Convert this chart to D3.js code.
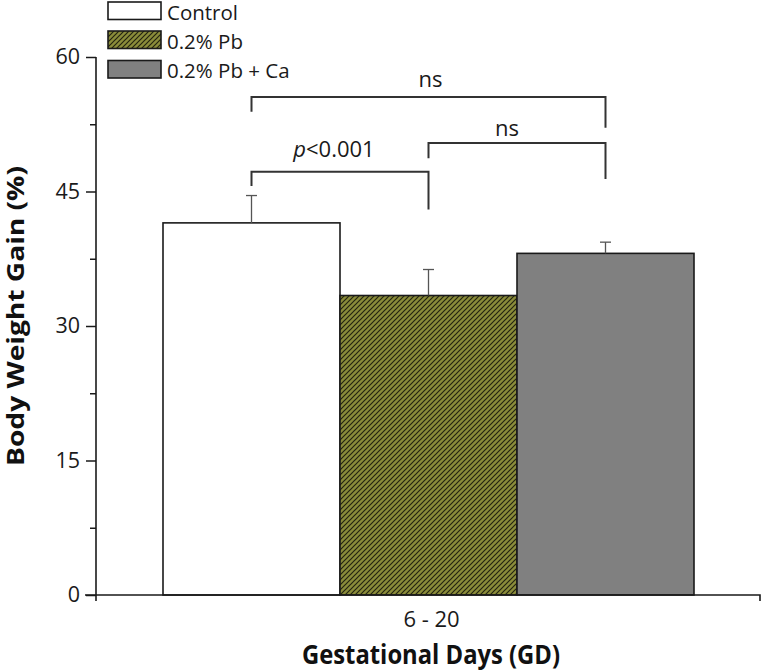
<!DOCTYPE html>
<html><head><meta charset="utf-8">
<script src="https://cdn.jsdelivr.net/npm/d3@7/dist/d3.min.js"></script>
<style>body{margin:0;background:#fff}svg{display:block}text{font-family:"Open Sans",sans-serif}</style>
</head><body><svg id="c" width="765" height="672"></svg>
<script>
const categories = ["6 - 20"];
const seriesNames = ["Control", "0.2% Pb", "0.2% Pb + Ca"];
const seriesValues = [41.5, 33.4, 38.1];
const seriesErrors = [3.05, 2.9, 1.25];
const yTicks = [0, 15, 30, 45, 60];
const yMinorTicks = [7.5, 22.5, 37.5, 52.5];
// comparisons: from index, to index, bracket level, left leg end, right leg end, label
const compFrom = [0, 1, 0];
const compTo = [1, 2, 2];
const compLevel = [47.2, 50.4, 55.55];
const compLeftEnd = [45.6, 48.7, 53.9];
const compRightEnd = [43.0, 46.4, 52.1];
const compLabels = ["p<0.001", "ns", "ns"];

const svg = d3.select("#c");
const y = d3.scaleLinear().domain([0, 60]).range([595, 57]);
const xg = d3.scaleBand().domain(categories).range([163, 694]).padding(0);
const xs = d3.scaleBand().domain(seriesNames).range([xg(categories[0]), xg(categories[0]) + xg.bandwidth()]).padding(0);

const defs = svg.append("defs");
const pat = defs.append("pattern").attr("id", "hatch").attr("patternUnits", "userSpaceOnUse")
  .attr("width", 5).attr("height", 5);
pat.append("rect").attr("width", 5).attr("height", 5).attr("fill", "#8a8c3a");
pat.append("path").attr("d", "M-1,1 l2,-2 M0,5 l5,-5 M4,6 l2,-2").attr("stroke", "#23230f").attr("stroke-width", 1.2);
const fills = ["#ffffff", "url(#hatch)", "#808080"];

// bars
svg.append("g").selectAll("rect").data(seriesValues).join("rect")
  .attr("x", (d, i) => xs(seriesNames[i]))
  .attr("y", d => y(d))
  .attr("width", xs.bandwidth())
  .attr("height", d => y(0) - y(d))
  .attr("fill", (d, i) => fills[i])
  .attr("stroke", "#1a1a1a").attr("stroke-width", 1.6);

// error bars
const eg = svg.append("g").attr("stroke", "#555").attr("stroke-width", 1.3);
seriesValues.forEach((v, i) => {
  const cx = xs(seriesNames[i]) + xs.bandwidth() / 2;
  eg.append("line").attr("x1", cx).attr("x2", cx).attr("y1", y(v)).attr("y2", y(v + seriesErrors[i]));
  eg.append("line").attr("x1", cx - 5.5).attr("x2", cx + 5.5).attr("y1", y(v + seriesErrors[i])).attr("y2", y(v + seriesErrors[i]));
});

// y axis
const ya = svg.append("g").attr("transform", "translate(96,0)")
  .call(d3.axisLeft(y).tickValues(yTicks).tickSize(10).tickPadding(6).tickFormat(d3.format("d")));
ya.select(".domain").remove();
ya.selectAll("line").attr("stroke", "#1a1a1a").attr("stroke-width", 1.5);
ya.selectAll("text").attr("font-size", 21.5).attr("fill", "#1a1a1a").attr("font-family", "Open Sans");
const ym = svg.append("g").attr("transform", "translate(96,0)")
  .call(d3.axisLeft(y).tickValues(yMinorTicks).tickSize(6).tickFormat(""));
ym.select(".domain").remove();
ym.selectAll("line").attr("stroke", "#1a1a1a").attr("stroke-width", 1.5);
svg.append("line").attr("x1", 96).attr("x2", 96).attr("y1", y(60)).attr("y2", 601)
  .attr("stroke", "#1a1a1a").attr("stroke-width", 1.6);

// x axis
svg.append("path").attr("d", `M85,${y(0)}H760V601`).attr("fill", "none")
  .attr("stroke", "#1a1a1a").attr("stroke-width", 1.6);
svg.append("text").attr("x", xg(categories[0]) + xg.bandwidth() / 2 + 3).attr("y", 627)
  .attr("text-anchor", "middle").attr("font-size", 22).attr("fill", "#1a1a1a").text(categories[0]);

// axis titles
svg.append("text").attr("x", 431).attr("y", 664).attr("text-anchor", "middle")
  .attr("font-size", 26).attr("font-weight", "bold").attr("fill", "#111")
  .attr("textLength", 258).attr("lengthAdjust", "spacingAndGlyphs").text("Gestational Days (GD)");
svg.append("text").attr("transform", "translate(24,316) rotate(-90)").attr("text-anchor", "middle")
  .attr("font-size", 24).attr("font-weight", "bold").attr("fill", "#111")
  .attr("textLength", 300).attr("lengthAdjust", "spacingAndGlyphs").text("Body Weight Gain (%)");

// comparison brackets
const bg = svg.append("g");
const labelDx = [-6, -10, 2];
const labelDy = [-15, -7, -10];
compLabels.forEach((lab, k) => {
  const x1 = xs(seriesNames[compFrom[k]]) + xs.bandwidth() / 2;
  const x2 = xs(seriesNames[compTo[k]]) + xs.bandwidth() / 2;
  bg.append("path")
    .attr("d", `M${x1},${y(compLeftEnd[k])}V${y(compLevel[k])}H${x2}V${y(compRightEnd[k])}`)
    .attr("fill", "none").attr("stroke", "#333").attr("stroke-width", 2);
  const t = bg.append("text").attr("x", (x1 + x2) / 2 + labelDx[k]).attr("y", y(compLevel[k]) + labelDy[k])
    .attr("text-anchor", "middle").attr("font-size", 22).attr("fill", "#1a1a1a");
  if (lab.startsWith("p")) {
    t.append("tspan").attr("font-style", "italic").text("p");
    t.append("tspan").text(lab.slice(1));
  } else t.text(lab);
});

// legend
const lg = svg.append("g");
const legY = [2, 31, 60.5];
seriesNames.forEach((n, i) => {
  lg.append("rect").attr("x", 108).attr("y", legY[i]).attr("width", 53).attr("height", 17.5)
    .attr("fill", fills[i]).attr("stroke", "#1a1a1a").attr("stroke-width", 1.6);
  lg.append("text").attr("x", 167).attr("y", legY[i] + 17.5).attr("font-size", 20.5)
    .attr("fill", "#1a1a1a").text(n);
});
</script></body></html>
